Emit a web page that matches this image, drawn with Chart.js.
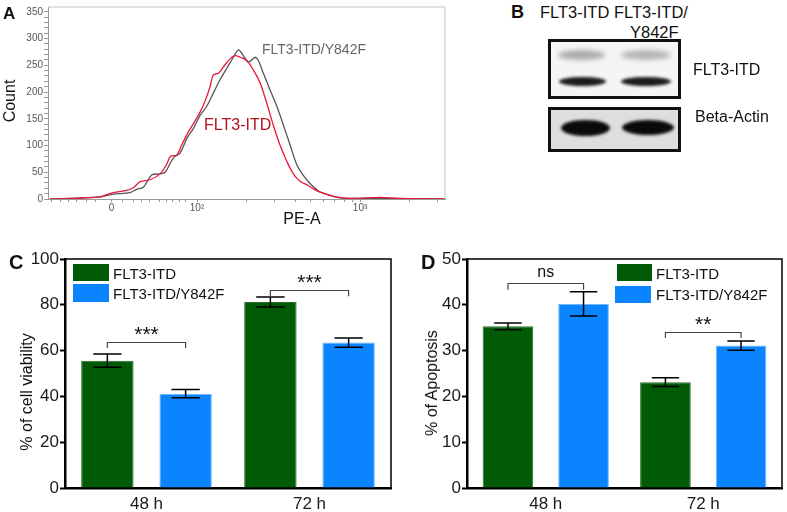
<!DOCTYPE html>
<html>
<head>
<meta charset="utf-8">
<script src="https://cdn.jsdelivr.net/npm/chart.js@4.4.0/dist/chart.umd.min.js"></script>
<style>
  body { margin: 0; background: #fff; font-family: 'Liberation Sans', Arial, sans-serif; }
  #page { position: relative; width: 787px; height: 512px; overflow: hidden; }
  canvas { position: absolute; }
  .t { position: absolute; white-space: nowrap; line-height: 1; color: #111; }
  .c { transform: translate(-50%, -50%); }
  .l { transform: translateY(-50%); }
  .r { transform: translate(-50%, -50%) rotate(-90deg); }
  .b { font-weight: bold; }
  .box { position: absolute; }
  .blot { position: absolute; box-sizing: border-box; border: 3px solid #111; }
  .band { position: absolute; border-radius: 50%; }
</style>
</head>
<body>
<div id="page">
  <canvas id="chartA" width="460" height="230" style="left:0;top:0"></canvas>
  <canvas id="chartC" width="400" height="272" style="left:0;top:240px"></canvas>
  <canvas id="chartD" width="387" height="272" style="left:400px;top:240px"></canvas>

  <!-- panel A text -->
  <div class="t b l" style="left:3px;top:13px;font-size:17px">A</div>
  <div class="t r" style="left:10px;top:101px;font-size:16px">Count</div>
  <div class="t c" style="left:302px;top:219px;font-size:16px">PE-A</div>
  <div class="t l" style="left:262px;top:49px;font-size:14px;color:#666">FLT3-ITD/Y842F</div>
  <div class="t l" style="left:204px;top:125px;font-size:16px;color:#b3121e">FLT3-ITD</div>

  <!-- panel B: blot -->
  <div class="t b l" style="left:511px;top:12px;font-size:18px">B</div>
  <div class="t l" style="left:540px;top:12px;font-size:16.5px">FLT3-ITD FLT3-ITD/</div>
  <div class="t l" style="left:630px;top:32px;font-size:16.5px">Y842F</div>
  <div class="blot" style="left:548px;top:39px;width:133px;height:60px;background:#f5f5f5"></div>
  <div class="band" style="left:558px;top:50px;width:47px;height:10px;background:#aaaaaa;filter:blur(2.5px)"></div>
  <div class="band" style="left:621px;top:50px;width:50px;height:10px;background:#b4b4b4;filter:blur(2.5px)"></div>
  <div class="band" style="left:559px;top:77px;width:47px;height:9px;background:#1c1c1c;filter:blur(1.5px)"></div>
  <div class="band" style="left:621px;top:77px;width:50px;height:9px;background:#1c1c1c;filter:blur(1.5px)"></div>
  <div class="blot" style="left:548px;top:107px;width:133px;height:45px;background:#dedede"></div>
  <div class="band" style="left:561px;top:120px;width:49px;height:16px;background:#0a0a0a;filter:blur(1.5px)"></div>
  <div class="band" style="left:622px;top:120px;width:52px;height:15px;background:#0a0a0a;filter:blur(1.5px)"></div>
  <div class="t l" style="left:693px;top:70px;font-size:16px">FLT3-ITD</div>
  <div class="t l" style="left:695px;top:117px;font-size:16px">Beta-Actin</div>

  <!-- panel C text -->
  <div class="t b l" style="left:9px;top:262px;font-size:20px">C</div>
  <div class="t r" style="left:27px;top:392px;font-size:16px">% of cell viability</div>
  <div class="box" style="left:73px;top:264px;width:36px;height:17px;background:#015a06"></div>
  <div class="box" style="left:73px;top:284px;width:36px;height:18px;background:#0a85ff"></div>
  <div class="t l" style="left:113px;top:273px;font-size:15px">FLT3-ITD</div>
  <div class="t l" style="left:113px;top:293px;font-size:15px">FLT3-ITD/Y842F</div>

  <!-- panel D text -->
  <div class="t b l" style="left:421px;top:262px;font-size:20px">D</div>
  <div class="t r" style="left:432px;top:383px;font-size:16px">% of Apoptosis</div>
  <div class="box" style="left:617px;top:264px;width:35px;height:17px;background:#015a06"></div>
  <div class="box" style="left:615px;top:286px;width:36px;height:17px;background:#0a85ff"></div>
  <div class="t l" style="left:656px;top:273px;font-size:15px">FLT3-ITD</div>
  <div class="t l" style="left:656px;top:294px;font-size:15px">FLT3-ITD/Y842F</div>
</div>

<script>
// Panel A: histogram, x in decades on the PE-A display scale
const peItdX = [1.098, 1.241, 1.405, 1.446, 1.487, 1.569, 1.609, 1.650, 1.712, 1.773, 1.814, 1.838, 1.875, 1.906, 1.937, 1.978, 2.018, 2.049, 2.080, 2.100, 2.131, 2.162, 2.202, 2.233, 2.264, 2.305, 2.346, 2.387, 2.427, 2.468, 2.509, 2.550, 2.591, 2.632, 2.673, 2.714, 2.755, 2.836, 2.939, 3.123, 3.245, 3.521];
const peItdY = [0, 1, 4, 8, 12, 16, 21, 32, 36, 47, 65, 80, 82, 101, 120, 141, 162, 183, 210, 232, 235, 247, 262, 268, 265, 259, 241, 217, 180, 138, 101, 71, 47, 33, 27, 19, 13, 5, 1, 3, 1, 0];
const peMutX = [1.098, 1.405, 1.487, 1.589, 1.630, 1.671, 1.722, 1.773, 1.804, 1.855, 1.896, 1.937, 1.978, 2.018, 2.059, 2.100, 2.141, 2.182, 2.223, 2.254, 2.284, 2.315, 2.356, 2.376, 2.407, 2.448, 2.489, 2.530, 2.571, 2.611, 2.652, 2.693, 2.755, 2.816, 2.877, 3.041, 3.521];
const peMutY = [0, 4, 9, 12, 18, 22, 45, 47, 50, 77, 86, 113, 132, 156, 173, 198, 223, 244, 265, 279, 268, 256, 265, 259, 235, 204, 174, 138, 101, 65, 44, 29, 13, 7, 2, 1, 0];
const peMajor = [1.476, 2, 3];
const peMajorLabels = ['0', '10²', '10³'];
const peMinor = [1.11, 1.16, 1.21, 1.26, 1.32, 1.38, 1.54, 1.61, 1.66, 1.71, 1.77, 1.81, 1.85, 1.89, 1.93, 2.301, 2.477, 2.602, 2.699, 2.778, 2.845, 2.903, 2.954, 3.301, 3.477];

// Panels C and D: bar charts
const groups = ['48 h', '72 h'];
const viabItd = [55.6, 81.2];
const viabItdErr = [2.9, 2.2];
const viabMut = [41.2, 63.5];
const viabMutErr = [1.8, 2.0];
const viabSig = ['***', '***'];
const viabSigTop = [63.8, 86.6];
const viabSigLeg = [61.1, 83.7];

const apopItd = [35.3, 23.1];
const apopItdErr = [0.75, 0.95];
const apopMut = [40.2, 31.1];
const apopMutErr = [2.65, 1.0];
const apopSig = ['ns', '**'];
const apopSigTop = [44.8, 34.0];
const apopSigLeg = [43.3, 32.75];

const GREEN = '#015a06';
const BLUE = '#0a85ff';
const FONT = "'Liberation Sans', Arial, sans-serif";

// frame round the plot area
const frame = {
  id: 'frame',
  afterDraw(chart, args, opts) {
    const a = chart.chartArea, ctx = chart.ctx;
    ctx.save();
    ctx.strokeStyle = opts.color;
    ctx.lineWidth = opts.width;
    ctx.beginPath();
    ctx.moveTo(a.left, a.top);
    ctx.lineTo(a.right, a.top);
    ctx.lineTo(a.right, a.bottom);
    ctx.stroke();
    ctx.restore();
  }
};

// error bars + significance brackets
const errorBars = {
  id: 'errorBars',
  afterDatasetsDraw(chart, args, opts) {
    const ctx = chart.ctx, y = chart.scales.y;
    ctx.save();
    ctx.strokeStyle = '#000';
    ctx.lineWidth = 1.5;
    chart.data.datasets.forEach((ds, di) => {
      chart.getDatasetMeta(di).data.forEach((bar, i) => {
        const t = y.getPixelForValue(ds.data[i] + ds.errors[i]);
        const b = y.getPixelForValue(ds.data[i] - ds.errors[i]);
        const h = bar.width * 0.27;
        ctx.beginPath();
        ctx.moveTo(bar.x, t); ctx.lineTo(bar.x, b);
        ctx.moveTo(bar.x - h, t); ctx.lineTo(bar.x + h, t);
        ctx.moveTo(bar.x - h, b); ctx.lineTo(bar.x + h, b);
        ctx.stroke();
      });
    });
    const m0 = chart.getDatasetMeta(0).data, m1 = chart.getDatasetMeta(1).data;
    ctx.strokeStyle = '#444';
    ctx.lineWidth = 1.2;
    ctx.fillStyle = '#111';
    ctx.textAlign = 'center';
    ctx.textBaseline = 'alphabetic';
    opts.sig.forEach((s, i) => {
      const x0 = m0[i].x, x1 = m1[i].x;
      const top = Math.round(y.getPixelForValue(opts.top[i])) + 0.5;
      const leg = y.getPixelForValue(opts.leg[i]);
      ctx.beginPath();
      ctx.moveTo(x0, leg); ctx.lineTo(x0, top); ctx.lineTo(x1, top); ctx.lineTo(x1, leg);
      ctx.stroke();
      if (s.includes('*')) {
        ctx.font = '21px ' + FONT;
        ctx.fillText(s, (x0 + x1) / 2, top - 2);
      } else {
        ctx.font = '16px ' + FONT;
        ctx.fillText(s, (x0 + x1) / 2, top - 7);
      }
    });
    ctx.restore();
  }
};

// Panel A
new Chart(document.getElementById('chartA'), {
  type: 'line',
  data: {
    datasets: [
      { label: 'FLT3-ITD', data: peItdX.map((x, i) => ({ x, y: peItdY[i] })),
        borderColor: '#e8183c', borderWidth: 1.3, pointRadius: 0, tension: 0.35, fill: false },
      { label: 'FLT3-ITD/Y842F', data: peMutX.map((x, i) => ({ x, y: peMutY[i] })),
        borderColor: '#555555', borderWidth: 1.3, pointRadius: 0, tension: 0.35, fill: false }
    ]
  },
  options: {
    responsive: false, animation: false, devicePixelRatio: 1,
    layout: { padding: { top: 2, right: 15, left: 0, bottom: 0 } },
    plugins: { legend: { display: false }, tooltip: { enabled: false }, frame: { color: '#c4c4c4', width: 1 } },
    scales: {
      x: {
        type: 'linear', min: 1.086, max: 3.521,
        afterFit: s => { s.height = 31; },
        afterBuildTicks: s => {
          s.ticks = peMajor.concat(peMinor).sort((a, b) => a - b).map(v => ({ value: v }));
        },
        ticks: {
          autoSkip: false, maxRotation: 0, padding: 0, color: '#555',
          font: { family: FONT, size: 10 },
          callback: v => {
            const k = peMajor.findIndex(m => Math.abs(m - v) < 1e-6);
            return k >= 0 ? peMajorLabels[k] : '';
          }
        },
        grid: { drawOnChartArea: false, tickLength: 3, tickColor: '#999' },
        border: { color: '#999', width: 1 }
      },
      y: {
        min: 0, max: 359,
        afterFit: s => { s.width = 48; },
        ticks: {
          stepSize: 10, includeBounds: false, autoSkip: false, padding: 1, color: '#555',
          font: { family: FONT, size: 10 },
          callback: v => (v % 50 === 0 ? v : '')
        },
        grid: { drawOnChartArea: false, tickLength: 4, tickColor: '#999' },
        border: { color: '#999', width: 1 }
      }
    }
  },
  plugins: [frame]
});

function barChart(id, yMax, step, itd, itdErr, mut, mutErr, sig, sigTop, sigLeg, yWidth, padRight) {
  return new Chart(document.getElementById(id), {
    type: 'bar',
    data: {
      labels: groups,
      datasets: [
        { label: 'FLT3-ITD', data: itd, errors: itdErr, backgroundColor: GREEN,
          borderColor: '#2c6e2c', borderWidth: 1, barPercentage: 0.67, categoryPercentage: 0.96 },
        { label: 'FLT3-ITD/Y842F', data: mut, errors: mutErr, backgroundColor: BLUE,
          borderColor: '#6fb6ff', borderWidth: 1, barPercentage: 0.67, categoryPercentage: 0.96 }
      ]
    },
    options: {
      responsive: false, animation: false, devicePixelRatio: 1,
      layout: { padding: { top: 19, right: padRight, left: 0, bottom: 0 } },
      plugins: {
        legend: { display: false }, tooltip: { enabled: false },
        frame: { color: '#000', width: 1.5 },
        errorBars: { sig, top: sigTop, leg: sigLeg }
      },
      scales: {
        x: {
          afterFit: s => { s.height = 24; },
          ticks: { padding: 6, color: '#1a1a1a', font: { family: FONT, size: 17 } },
          grid: { display: false, drawTicks: false },
          border: { color: '#000', width: 2.5 }
        },
        y: {
          min: 0, max: yMax,
          afterFit: s => { s.width = yWidth; },
          ticks: { stepSize: step, padding: 1, color: '#1a1a1a', font: { family: FONT, size: 17 } },
          grid: { drawOnChartArea: false, tickLength: 5, tickColor: '#000', tickWidth: 2 },
          border: { color: '#000', width: 2.5 }
        }
      }
    },
    plugins: [frame, errorBars]
  });
}

barChart('chartC', 100, 20, viabItd, viabItdErr, viabMut, viabMutErr, viabSig, viabSigTop, viabSigLeg, 65, 9);
barChart('chartD', 50, 10, apopItd, apopItdErr, apopMut, apopMutErr, apopSig, apopSigTop, apopSigLeg, 67, 5);
</script>
</body>
</html>
